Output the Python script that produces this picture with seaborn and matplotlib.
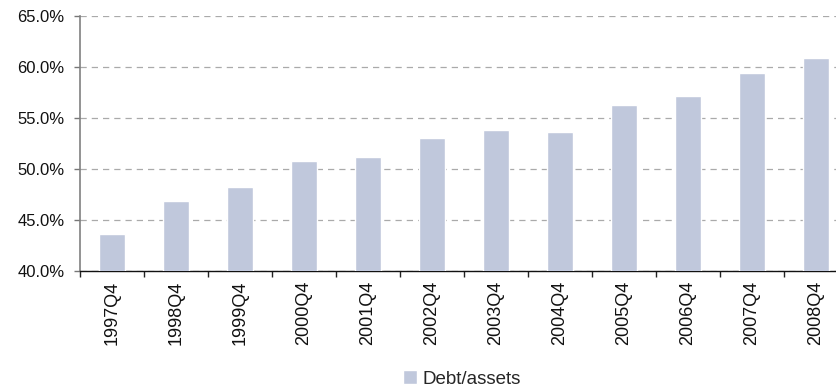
import numpy as np
import pandas as pd
import matplotlib
matplotlib.use("Agg")
import matplotlib.pyplot as plt
import seaborn as sns
from matplotlib.ticker import FuncFormatter

quarters = ["1997Q4", "1998Q4", "1999Q4", "2000Q4", "2001Q4", "2002Q4",
            "2003Q4", "2004Q4", "2005Q4", "2006Q4", "2007Q4", "2008Q4"]
debt_assets = [43.7, 46.9, 48.3, 50.8, 51.2, 53.1, 53.8, 53.6, 56.3, 57.2, 59.4, 60.9]
series_name = "Debt/assets"

sns.set_theme(style="white")
plt.rcParams["font.family"] = ["Liberation Sans", "DejaVu Sans"]

df = pd.DataFrame({"quarter": quarters, "value": debt_assets})

fig = plt.figure(figsize=(8.36, 3.90), dpi=100)
ax = fig.add_axes([80 / 836, 0.3044, 768 / 836, 0.6546])

sns.barplot(data=df, x="quarter", y="value", color="#C0C8DC", saturation=1,
            width=0.41, ax=ax, label=series_name, zorder=3)

ax.set_ylim(40, 65)
ax.set_xlim(-0.5, 11.5)
ax.set_yticks(np.arange(40, 65.1, 5))
ax.yaxis.set_major_formatter(FuncFormatter(lambda v, p: f"{v:.1f}%"))
ax.yaxis.grid(True, linestyle=(0, (5, 4)), color="#AAAAAA", linewidth=0.9, zorder=0)
ax.set_axisbelow(True)

ax.set_xticks(range(len(quarters)))
ax.set_xticklabels(quarters, rotation=90)
ax.set_xticks(np.arange(-0.5, len(quarters), 1), minor=True)
ax.tick_params(axis="x", which="major", length=0, pad=7, labelsize=13, labelcolor="#111111")
ax.tick_params(axis="x", which="minor", length=4, width=1, color="#222222", direction="out", bottom=True)
ax.tick_params(axis="y", which="major", length=4, width=1, color="#777777", direction="out", left=True,
               labelsize=12, labelcolor="#111111", pad=7)

for s in ["top", "right"]:
    ax.spines[s].set_visible(False)
ax.spines["left"].set_color("#808080")
ax.spines["left"].set_linewidth(1.2)
ax.spines["bottom"].set_color("#111111")
ax.spines["bottom"].set_linewidth(1.0)

ax.set_xlabel("")
ax.set_ylabel("")

ax.legend(loc="center", bbox_to_anchor=(462 / 836, 11 / 390), bbox_transform=fig.transFigure,
          frameon=False, fontsize=13.5, handlelength=0.75, handleheight=0.7, handletextpad=0.3,
          borderpad=0)

fig.savefig("out.png", dpi=100)
